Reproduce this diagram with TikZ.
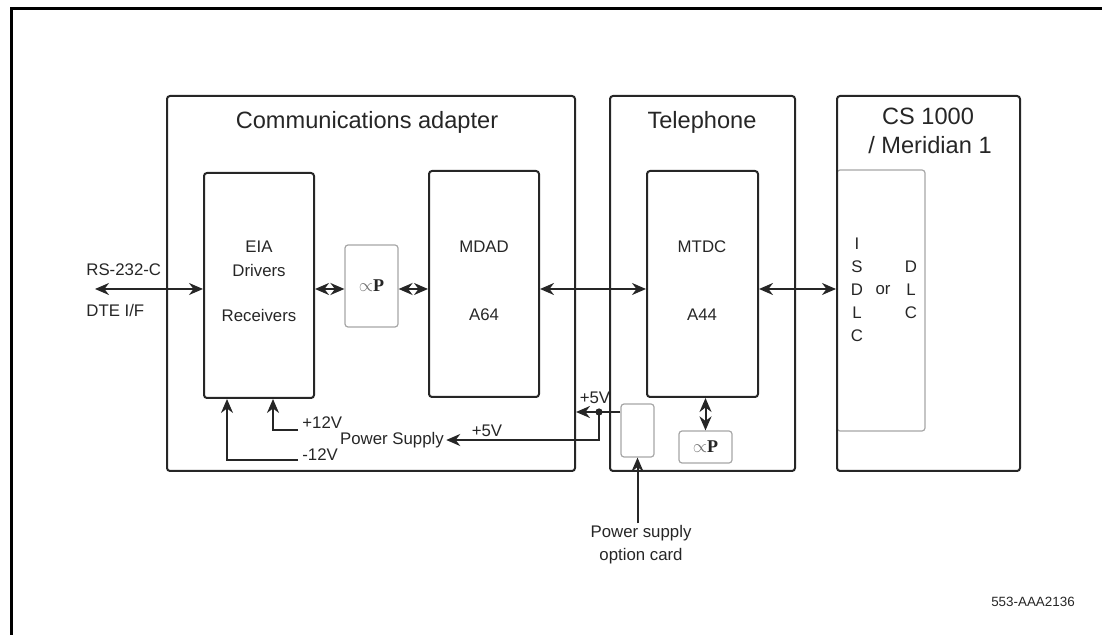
\documentclass[tikz,border=0pt]{standalone}
\usepackage{fontspec}
\setmainfont{Liberation Sans}
\newfontfamily\serifP{Liberation Serif}
\usetikzlibrary{arrows.meta,fit}

\begin{document}
\begin{tikzpicture}[x=0.5pt,y=-0.5pt, font=\fontsize{8.4}{11.5}\selectfont, text=black!85, inner sep=1pt,
  box/.style={draw=black!85, line width=1pt, rounded corners=1.5pt, inner sep=0pt},
  card/.style={draw=black!35, line width=0.6pt, rounded corners=1.5pt, inner sep=0pt},
  heading/.style={font=\fontsize{11.8}{14}\selectfont},
  mup/.style={font=\fontsize{9}{10}\selectfont},
  link/.style={line width=1pt, draw=black!85, -{Stealth[length=7pt,width=6pt]}},
  bilink/.style={link, {Stealth[length=7pt,width=6pt]}-{Stealth[length=7pt,width=6pt]}}]

\clip (0,0) rectangle (1102,635);
% outer frame, runs off the page on the right and below
\draw[line width=1.5pt] (11.5,8.5) rectangle (1130,660);

% the three units
\node[card, fit={(837,170) (925,431)}] (slot) {};
\node[box, fit={(167,96) (575,471)}] (comm) {};
\node[box, fit={(610,96) (795,471)}] (tel) {};
\node[box, fit={(837,96) (1020,471)}] (cs) {};

\node[heading] (commT) at (367,122) {Communications adapter};
\node[heading] (telT) at (702,122) {Telephone};
\node[heading] (csT) at (928,116) {CS 1000};
\node[heading] (csM) at (930,145) {/ Meridian 1};

% boards
\node[box, fit={(204,173) (314,398)}] (eia) {};
\node (eiaA) at (259,247) {EIA};
\node (eiaB) at (259,270) {Drivers};
\node (eiaC) at (259,315) {Receivers};

\node[card, fit={(345,245) (398,327)}] (mupA) {};
\node[mup] (mupAT) at (mupA) {{\color{black!55}$\propto$}{\serifP\bfseries P}};

\node[box, fit={(429,171) (539,397)}] (mdad) {};
\node (mdadA) at (484,247) {MDAD};
\node (mdadB) at (484,315) {A64};

\node[box, fit={(647,171) (758,397)}] (mtdc) {};
\node (mtdcA) at (702,247) {MTDC};
\node (mtdcB) at (702,315) {A44};

\node[card, fit={(679,431) (732,463)}] (mupB) {};
\node[mup] (mupBT) at (mupB) {{\color{black!55}$\propto$}{\serifP\bfseries P}};

\node[card, fit={(621,404) (654,457)}] (card) {};

% ISDLC or DLC
\foreach \ch [count=\i] in {I,S,D,L,C}
  \node (isdlc\i) at (857,221+23*\i) {\ch};
\node (or) at (883,290) {or};
\foreach \ch [count=\i] in {D,L,C}
  \node (dlc\i) at (911,244+23*\i) {\ch};

% data path
\coordinate (dte) at (95,289);
\node[anchor=west] (rs) at (84,270) {RS-232-C};
\node[anchor=west] (dteT) at (84,310) {DTE I/F};
\draw[bilink] (dte) -- (eia.west |- dte);
\draw[bilink] (eia.east |- dte) -- (mupA.west |- dte);
\draw[bilink] (mupA.east |- dte) -- (mdad.west |- dte);
\draw[bilink] (mdad.east |- dte) -- (mtdc.west |- dte);
\draw[bilink] (mtdc.east |- dte) -- (cs.west |- dte);
\draw[bilink] (mupB.north) -- (mupB.north |- mtdc.south);

% power
\node (psu) at (392,440) {Power Supply};
\coordinate (jn) at (599,412);
\fill[black!85] (jn) circle (1.8pt);
\node (p5a) at (595,398) {+5V};
\node (p5b) at (487,431) {+5V};
\draw[link] (card.west |- jn) -- (comm.east |- jn);
\draw[link] (jn) |- (psu.east);

\node[anchor=base west] (p12) at (300,429) {+12V};
\node[anchor=base west] (m12) at (300,461) {-12V};
\coordinate (p12end) at (298,430);
\coordinate (m12end) at (298,460);
\draw[link] (p12end) -| ([xshift=7pt]eia.south);
\draw[link] (m12end) -| ([xshift=-16pt]eia.south);

\node[align=center] (cardT) at (641,545) {Power supply\\option card};
\draw[link] (card.south |- cardT.north) -- (card.south);

\node[font=\fontsize{6.7}{8}\selectfont] (figid) at (1033,602) {553-AAA2136};
\end{tikzpicture}
\end{document}
